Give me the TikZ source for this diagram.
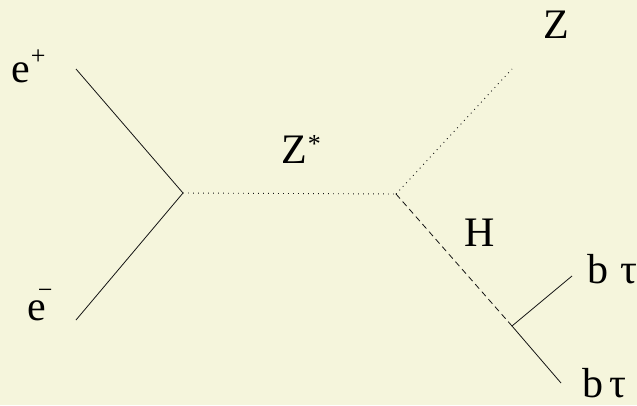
\documentclass[tikz,border=0pt]{standalone}
\usepackage{fontspec}
\setmainfont{Liberation Serif}
\newfontfamily\lblfont{Liberation Serif}
\usepackage{xcolor}
\definecolor{bgcol}{RGB}{245,245,220}
\definecolor{linecol}{RGB}{20,20,20}
\tikzset{
  fermion/.style={linecol, line width=0.8pt},
  zboson/.style={linecol, line width=0.9pt, dash pattern=on 0.9pt off 4.1pt},
  higgs/.style={linecol, line width=0.8pt, dash pattern=on 6pt off 4pt},
  plbl/.style={font=\lblfont\fontsize{42}{50}\selectfont, inner sep=0pt, anchor=base west}
}
\newcommand{\upmark}[2]{\raisebox{#1}{\fontsize{26}{30}\selectfont #2}}

\begin{document}
\begin{tikzpicture}[x=1pt, y=-1pt, line cap=butt]

% ------------------------------------------------------------------
% Background and fixed frame
% ------------------------------------------------------------------
\fill[bgcol] (0,0) rectangle (637,405);
\useasboundingbox (0,0) rectangle (637,405);

% ------------------------------------------------------------------
% Vertices and external ends
% ------------------------------------------------------------------
\coordinate (vprod) at (183,193);   % e+ e- -> Z*
\coordinate (vdec)  at (396,194);   % Z* -> Z H
\coordinate (vhb)   at (512,326);   % H -> b tau
\coordinate (epos)  at (76,69);
\coordinate (eneg)  at (76,320);
\coordinate (zout)  at (512,69);
\coordinate (bup)   at (572,276);
\coordinate (bdown) at (561,383);

% ------------------------------------------------------------------
% Propagators and legs
% ------------------------------------------------------------------
\draw[fermion] (epos) -- (vprod);
\draw[fermion] (eneg) -- (vprod);
\draw[zboson]  (vprod) -- (vdec);
\draw[zboson]  (vdec) -- (zout);
\draw[higgs]   (vdec) -- (vhb);
\draw[fermion] (vhb) -- (bup);
\draw[fermion] (vhb) -- (bdown);

% ------------------------------------------------------------------
% Labels
% ------------------------------------------------------------------
\node[plbl] (lepos) at (11,82)  {e\hspace{1pt}\upmark{18pt}{+}};
\node[plbl] (leneg) at (27,320) {e\hspace{-8pt}\upmark{22pt}{\textminus}};
\node[plbl] (lzst)  at (281,163) {Z\hspace{1pt}\upmark{11pt}{*}};
\node[plbl] (lz)    at (543,38)  {Z};
\node[plbl] (lh)    at (464,246) {H};
\node[plbl] (lbup)  at (587,283) {b\hspace{12pt}τ};
\node[plbl] (lbdn)  at (582,397) {b\hspace{6pt}τ};

\end{tikzpicture}
\end{document}
